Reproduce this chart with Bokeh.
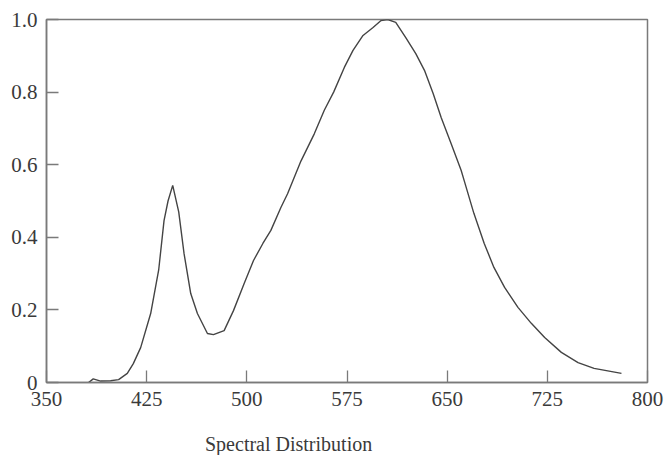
from bokeh.plotting import figure
from bokeh.models import FixedTicker, Div
from bokeh.layouts import column
from bokeh.embed import file_html
from bokeh.resources import INLINE

# Relative spectral power of a white LED (wavelength in nm)
wavelength = [381.5, 385, 390.5, 398, 404, 410.5, 415, 420.5, 428, 434, 438, 441,
              444.5, 449, 453, 458, 463, 470.5, 475, 483, 490, 498, 505, 512, 518,
              525.5, 530.5, 540.5, 550.5, 558, 565, 573, 579.5, 587, 594.5, 600.5,
              605.5, 611.5, 619, 626.5, 633, 639.5, 645.5, 653, 660.5, 662.75, 670,
              677.75, 685, 693, 703, 713, 723, 735.5, 748, 760, 780.5]
intensity = [0.0, 0.01, 0.004, 0.005, 0.008, 0.025, 0.052, 0.096, 0.19, 0.31, 0.446, 0.50,
             0.543, 0.47, 0.355, 0.245, 0.19, 0.135, 0.132, 0.143, 0.198, 0.273, 0.336, 0.383, 0.419,
             0.482, 0.52, 0.61, 0.685, 0.75, 0.80, 0.868, 0.915, 0.956, 0.978, 0.997,
             1.0, 0.992, 0.95, 0.906, 0.86, 0.796, 0.73, 0.658, 0.584, 0.556, 0.466,
             0.383, 0.317, 0.262, 0.207, 0.163, 0.124, 0.083, 0.055, 0.039, 0.025]

x_ticks = [350, 425, 500, 575, 650, 725, 800]
y_ticks = [0, 0.2, 0.4, 0.6, 0.8, 1.0]
y_tick_labels = {0: "0", 0.2: "0.2", 0.4: "0.4", 0.6: "0.6", 0.8: "0.8", 1.0: "1.0"}
caption = "Spectral Distribution"

SERIF = "Liberation Serif"
AXIS_COLOR = "#7a7a7a"
TEXT_COLOR = "#3a3a3a"

p = figure(width=670, height=434, x_range=(350, 800), y_range=(0, 1.0),
           output_backend="svg", toolbar_location=None,
           min_border_left=46, min_border_right=23, min_border_top=19, min_border_bottom=52)

p.line(wavelength, intensity, line_color="#444444", line_width=1.4)

p.grid.visible = False
p.outline_line_color = AXIS_COLOR
p.outline_line_width = 1.5
p.background_fill_color = "white"
p.border_fill_color = "white"

for ax in (p.xaxis[0], p.yaxis[0]):
    ax.axis_line_color = AXIS_COLOR
    ax.axis_line_width = 1.5
    ax.major_tick_line_color = AXIS_COLOR
    ax.major_tick_line_width = 1.3
    ax.major_tick_in = 12
    ax.major_tick_out = 0
    ax.minor_tick_line_color = None
    ax.major_label_text_font = SERIF
    ax.major_label_text_font_size = "21px"
    ax.major_label_text_color = TEXT_COLOR

p.xaxis.ticker = FixedTicker(ticks=x_ticks)
p.xaxis.major_label_standoff = 9
p.yaxis.ticker = FixedTicker(ticks=y_ticks)
p.yaxis.major_label_overrides = y_tick_labels
p.yaxis.major_label_standoff = 9

# Caption line under the chart, set a little left of centre
caption_div = Div(text=caption, width=670, height=21, margin=0,
                  styles={"font-family": SERIF, "font-size": "20px", "line-height": "20px",
                          "color": TEXT_COLOR, "padding-left": "205px",
                          "white-space": "nowrap", "box-sizing": "border-box"})

page = column(p, caption_div, spacing=0)

open("out.html", "w").write(file_html(page, INLINE))
